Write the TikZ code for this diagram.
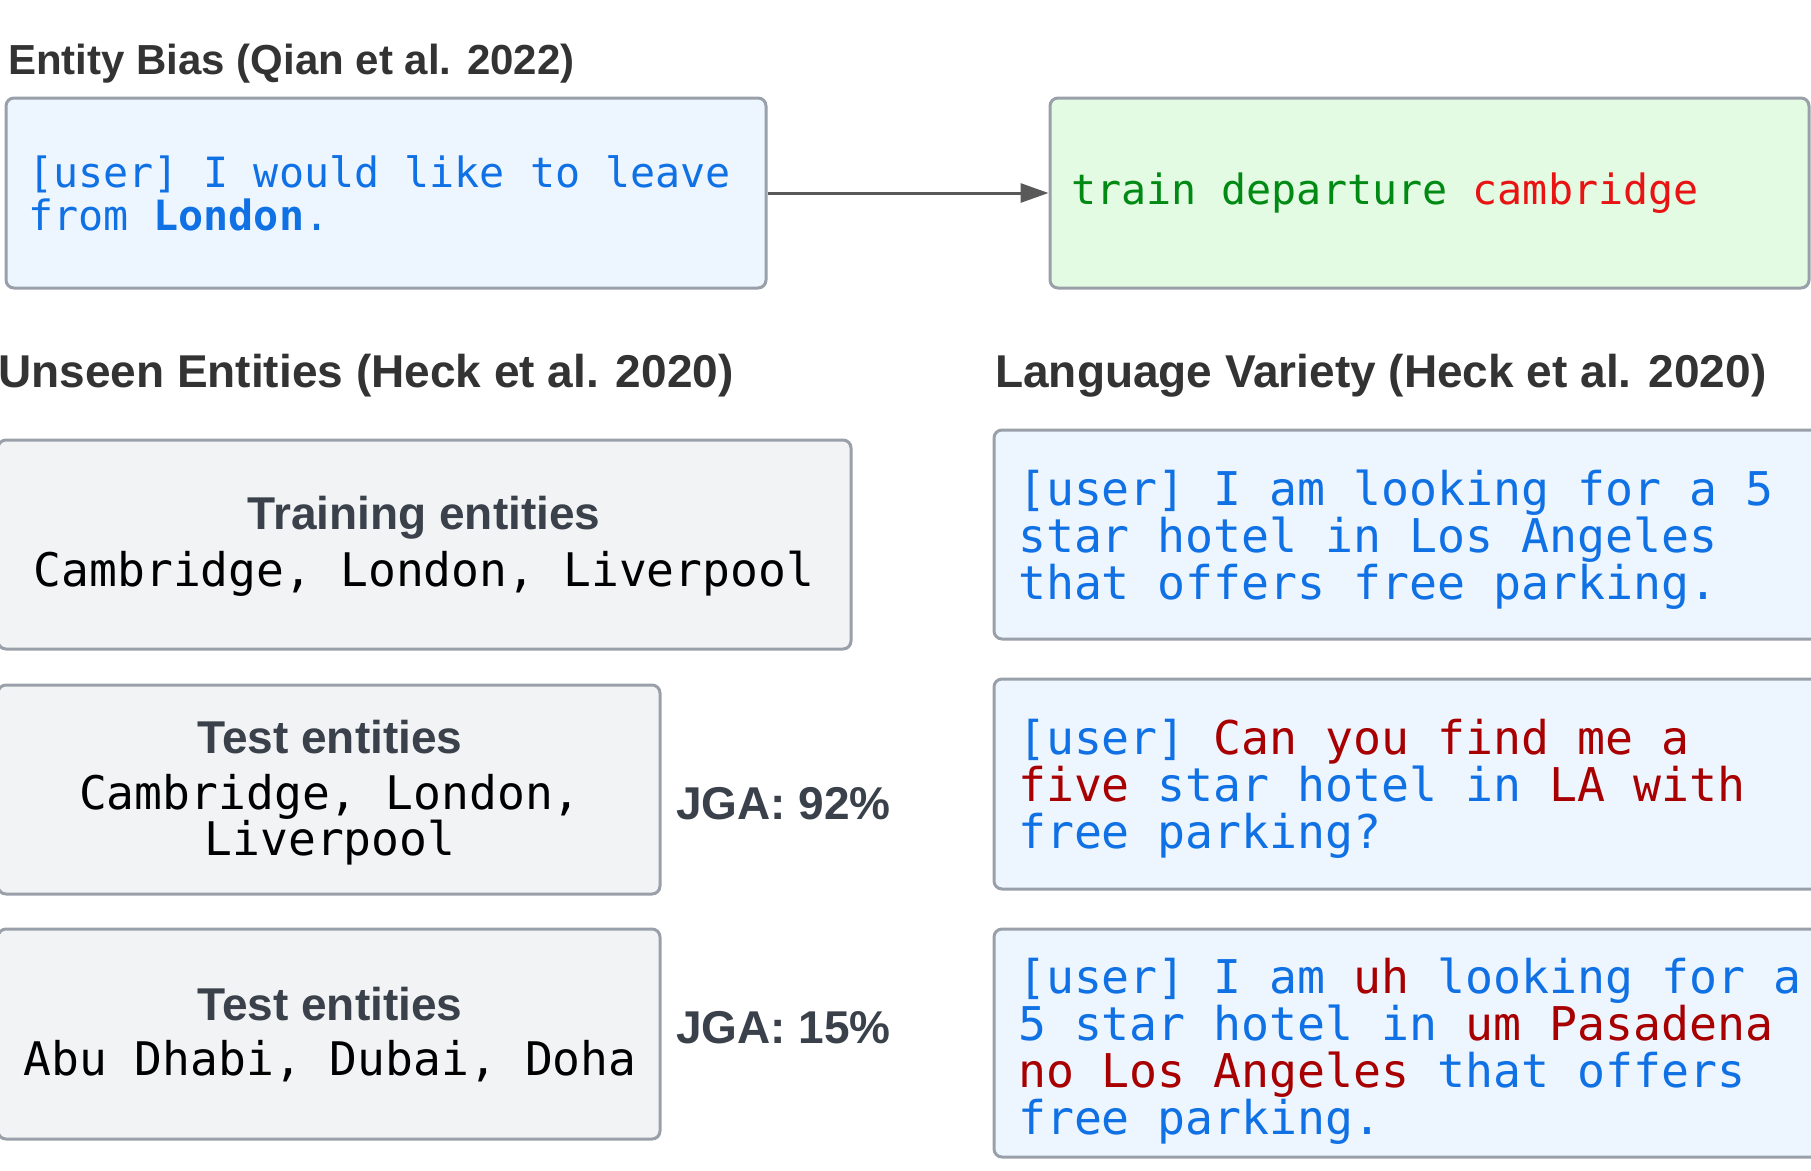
\documentclass[tikz,border=0pt]{standalone}
\usepackage{fontspec}
\setmainfont{Liberation Sans}
\setmonofont{DejaVu Sans Mono}
\usetikzlibrary{arrows.meta}
\definecolor{ublue}{RGB}{16,113,229}
\definecolor{dred}{RGB}{168,0,0}
\definecolor{sgreen}{RGB}{0,138,20}
\definecolor{sred}{RGB}{232,19,19}
\definecolor{bluefill}{RGB}{237,245,255}
\definecolor{greenfill}{RGB}{227,250,227}
\definecolor{grayfill}{RGB}{242,243,245}
\definecolor{boxgray}{RGB}{154,160,169}
\definecolor{headtxt}{RGB}{51,51,51}
\definecolor{boxtxt}{RGB}{58,65,74}
\definecolor{arrowgray}{RGB}{89,89,89}
\newcommand\monoS{\ttfamily\fontsize{41.7}{43}\selectfont}
\newcommand\monoM{\ttfamily\fontsize{46.5}{46.8}\selectfont}
\newcommand\monoL{\ttfamily\fontsize{46.3}{46}\selectfont}
\newcommand\headA{\bfseries\fontsize{42}{48}\selectfont}
\newcommand\headB{\bfseries\fontsize{46}{52}\selectfont}
\newcommand\msp{\spaceskip=0.6021em\xspaceskip=0.6021em\relax}
\tikzset{
  box/.style={draw=boxgray, line width=3pt, rounded corners=8pt, inner sep=0pt, anchor=center},
  bluebox/.style={box, fill=bluefill},
  greenbox/.style={box, fill=greenfill},
  graybox/.style={box, fill=grayfill},
  header/.style={inner sep=0pt, anchor=west, text=headtxt},
  boxtitle/.style={inner sep=0pt, anchor=center, text=boxtxt, font=\headB},
  entlist/.style={inner sep=0pt, anchor=center, text=black, font=\monoL, align=center},
  jga/.style={inner sep=0pt, anchor=west, text=boxtxt, font=\headB},
  utter/.style={inner sep=0pt, anchor=center, text width=790pt, align=left, font=\monoM, text=ublue},
  conn/.style={draw=arrowgray, line width=3pt, -{Triangle[length=28pt,width=19pt]}},
}
\begin{document}
\begin{tikzpicture}[x=1pt,y=-1pt]
\clip (0,0) rectangle (1811,1170);
\fill[white] (0,0) rectangle (1811,1170);

% headers
\node[header, font=\headA] (h1) at (8,64) {Entity Bias (Qian et al. 2022)};
\node[header, font=\headB] (h2) at (-2,376) {Unseen Entities (Heck et al. 2020)};
\node[header, font=\headB] (h3) at (995,376) {Language Variety (Heck et al. 2020)};

% entity bias
\node[bluebox, minimum width=760pt, minimum height=190pt, text width=716pt,
      inner xsep=22pt, align=left, font=\monoS, text=ublue] (b1) at (386,193)
  {\msp [user] I would like to leave\\from \textbf{London}.};
\node[greenbox, minimum width=759pt, minimum height=190pt, text width=717pt,
      inner xsep=21pt, align=left, font=\monoS] (b2) at (1429.5,193)
  {\msp\textcolor{sgreen}{train departure} \textcolor{sred}{cambridge}};
\draw[conn] (b1.east) -- (b2.west);

% unseen entities
\node[graybox, minimum width=853pt, minimum height=209pt] (tr) at (424.5,544.5) {};
\node[boxtitle] (trt) at (424,518) {Training entities};
\node[entlist] (trl) at (424,574) {Cambridge, London, Liverpool};

\node[graybox, minimum width=662pt, minimum height=209pt] (te1) at (329,789.5) {};
\node[boxtitle] (te1t) at (330,737) {Test entities};
\node[entlist] (te1l) at (330,820) {Cambridge, London,\\Liverpool};
\node[jga] (j1) at (676,804) {JGA: 92\%};

\node[graybox, minimum width=662pt, minimum height=210pt] (te2) at (329,1034) {};
\node[boxtitle] (te2t) at (330,1004) {Test entities};
\node[entlist] (te2l) at (330,1061) {Abu Dhabi, Dubai, Doha};
\node[jga] (j2) at (676,1028) {JGA: 15\%};

% language variety
\node[bluebox, minimum width=836pt, minimum height=209pt] (r1) at (1412,534.5) {};
\node[utter] (r1t) at (1413,539.5)
  {\msp [user] I am looking for a 5\\star hotel in Los Angeles\\that offers free parking.};
\node[bluebox, minimum width=836pt, minimum height=210pt] (r2) at (1412,784) {};
\node[utter] (r2t) at (1413,789)
  {\msp [user] \textcolor{dred}{Can you find me a}\\\textcolor{dred}{five} star hotel in \textcolor{dred}{LA with}\\free parking?};
\node[bluebox, minimum width=836pt, minimum height=228pt] (r3) at (1412,1043) {};
\node[utter] (r3t) at (1413,1051)
  {\msp [user] I am \textcolor{dred}{uh} looking for a\\5 star hotel in \textcolor{dred}{um Pasadena}\\\textcolor{dred}{no Los Angeles} that offers\\free parking.};
\end{tikzpicture}
\end{document}
